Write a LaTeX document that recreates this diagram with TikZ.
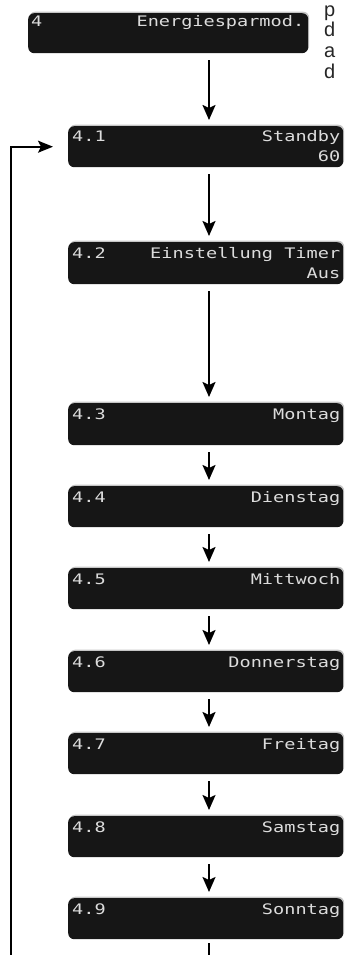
\documentclass[tikz,border=0pt]{standalone}
\usepackage{fontspec}
\usetikzlibrary{arrows.meta,shadows}
\newfontfamily\lcdfont[FakeStretch=1.28]{DejaVu Sans Mono}
\newfontfamily\sidefont{Liberation Sans}
\definecolor{lcdbg}{HTML}{161616}
\definecolor{lcdfg}{HTML}{DCDCDC}
\tikzset{
  lcdbox/.style={rectangle, rounded corners=6pt, fill=lcdbg, draw=none,
    anchor=north west, inner sep=0pt,
    drop shadow={shadow xshift=1pt, shadow yshift=1.5pt, fill=black!45, opacity=0.5}},
  lcdtxt/.style={text=lcdfg, font=\lcdfont\fontsize{14.5}{16}\selectfont, inner sep=0pt},
  flow/.style={line width=2pt, -{Stealth[length=15pt, width=13pt, inset=3pt]},
    shorten <=7pt, shorten >=6pt},
  back/.style={line width=1.6pt, -{Stealth[length=15pt, width=12pt, inset=3pt]}},
  sidetxt/.style={font=\sidefont\fontsize{20}{22}\selectfont, text=black!85, inner sep=0pt, anchor=base west}
}
\begin{document}
\begin{tikzpicture}[x=1pt,y=-1pt]
\useasboundingbox (0,0) rectangle (346,955);
\coordinate (ax) at (209,0);
% boxes
\node[lcdbox, minimum width=280pt, minimum height=40pt] (n4) at (28,13) {};
\node[lcdbox, minimum width=275pt, minimum height=41pt] (n41) at (68,126) {};
\node[lcdbox, minimum width=275pt, minimum height=42pt] (n42) at (68,242) {};
\node[lcdbox, minimum width=275pt, minimum height=42pt] (n43) at (68,403) {};
\node[lcdbox, minimum width=275pt, minimum height=41pt] (n44) at (68,486) {};
\node[lcdbox, minimum width=275pt, minimum height=41pt] (n45) at (68,568) {};
\node[lcdbox, minimum width=275pt, minimum height=41pt] (n46) at (68,651) {};
\node[lcdbox, minimum width=275pt, minimum height=41pt] (n47) at (68,733) {};
\node[lcdbox, minimum width=275pt, minimum height=41pt] (n48) at (68,816) {};
\node[lcdbox, minimum width=275pt, minimum height=41pt] (n49) at (68,898) {};
% texts
\node[lcdtxt, anchor=base west] (t4a) at ([xshift=3pt,yshift=-14pt]n4.north west) {4};
\node[lcdtxt, anchor=base east] (t4b) at ([xshift=-4pt,yshift=-14pt]n4.north east) {Energiesparmod.};
\foreach \n/\num/\lab in {n41/4.1/Standby, n42/4.2/Einstellung Timer, n43/4.3/Montag, n44/4.4/Dienstag, n45/4.5/Mittwoch, n46/4.6/Donnerstag, n47/4.7/Freitag, n48/4.8/Samstag, n49/4.9/Sonntag}{
  \node[lcdtxt, anchor=base west] (\n a) at ([xshift=4pt,yshift=-16pt]\n.north west) {\num};
  \node[lcdtxt, anchor=base east] (\n b) at ([xshift=-3pt,yshift=-16pt]\n.north east) {\lab};
}
\node[lcdtxt, anchor=base east] (n41c) at ([xshift=-3pt,yshift=-35pt]n41.north east) {60};
\node[lcdtxt, anchor=base east] (n42c) at ([xshift=-3pt,yshift=-36pt]n42.north east) {Aus};
% flow arrows
\draw[flow] (n4.south -| ax) -- (n41.north -| ax);
\draw[flow] (n41.south -| ax) -- (n42.north -| ax);
\draw[flow] (n42.south -| ax) -- (n43.north -| ax);
\draw[flow] (n43.south -| ax) -- (n44.north -| ax);
\draw[flow] (n44.south -| ax) -- (n45.north -| ax);
\draw[flow] (n45.south -| ax) -- (n46.north -| ax);
\draw[flow] (n46.south -| ax) -- (n47.north -| ax);
\draw[flow] (n47.south -| ax) -- (n48.north -| ax);
\draw[flow] (n48.south -| ax) -- (n49.north -| ax);
% loop back
\coordinate (b1) at (209,962);
\coordinate (b2) at (11,962);
\draw[line width=1.6pt, shorten <=4pt] (n49.south -| ax) -- (b1);
\draw[back, shorten >=15pt] (b2) |- (n41.west);
% letters of the neighbouring text column
\node[sidetxt] (p1) at (324,17) {p};
\node[sidetxt] (p2) at (324,37) {d};
\node[sidetxt] (p3) at (324,58) {a};
\node[sidetxt] (p4) at (324,79) {d};
\end{tikzpicture}
\end{document}
